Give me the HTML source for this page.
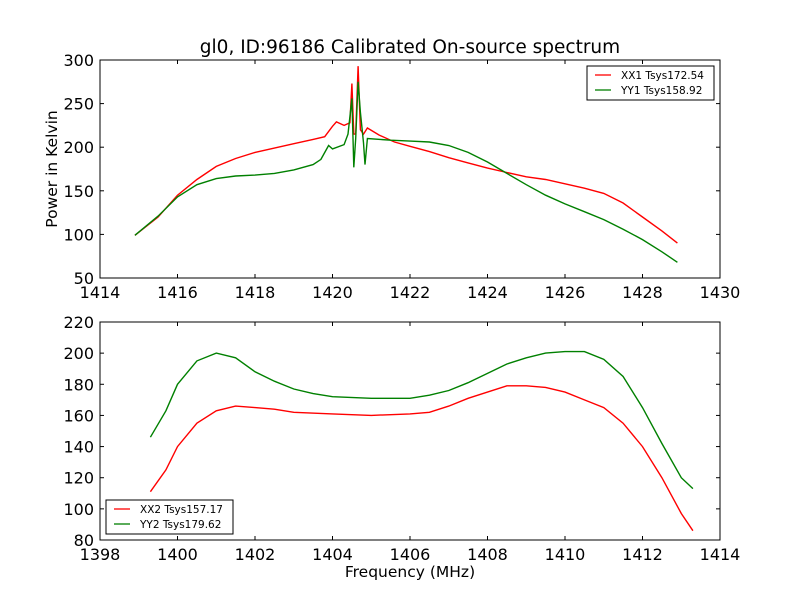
<!DOCTYPE html>
<html><head><meta charset="utf-8">
<style>
body{margin:0;background:#fff;}
svg text{font-family:"DejaVu Sans","Liberation Sans",sans-serif;}
</style></head>
<body>
<svg id="chart" width="800" height="600" viewBox="0 0 800 600" xmlns="http://www.w3.org/2000/svg">
<rect width="800" height="600" fill="#fff"/>
<text x="410" y="53" font-size="18.5" text-anchor="middle">gl0, ID:96186 Calibrated On-source spectrum</text>
<text x="57" y="169" font-size="15.5" text-anchor="middle" transform="rotate(-90 57 169)">Power in Kelvin</text>
<text x="410" y="577" font-size="15.5" text-anchor="middle">Frequency (MHz)</text>
<g id="top"></g>
<g id="bot"></g>
</svg>
<script>
const topXTicks=[1414,1416,1418,1420,1422,1424,1426,1428,1430];
const topYTicks=[50,100,150,200,250,300];
const botXTicks=[1398,1400,1402,1404,1406,1408,1410,1412,1414];
const botYTicks=[80,100,120,140,160,180,200,220];
const xx1F=[1414.9,1415.5,1416,1416.5,1417,1417.5,1418,1418.5,1419,1419.5,1419.8,1420,1420.1,1420.3,1420.45,1420.5,1420.55,1420.6,1420.66,1420.72,1420.8,1420.9,1421.2,1421.6,1422,1422.5,1423,1423.5,1424,1424.5,1425,1425.5,1426,1426.5,1427,1427.5,1428,1428.5,1428.9];
const xx1V=[99,120,145,163,178,187,194,199,204,209,212,224,229,225,228,273,215,215,293,220,215,222,214,206,201,195,188,182,176,171,166,163,158,153,147,136,120,104,90];
const yy1F=[1414.9,1415.5,1416,1416.5,1417,1417.5,1418,1418.5,1419,1419.5,1419.7,1419.9,1420,1420.3,1420.4,1420.5,1420.55,1420.6,1420.66,1420.72,1420.8,1420.84,1420.9,1421.5,1422,1422.5,1423,1423.5,1424,1424.5,1425,1425.5,1426,1426.5,1427,1427.5,1428,1428.5,1428.9];
const yy1V=[99,121,143,157,164,167,168,170,174,180,186,202,198,203,215,256,177,210,275,240,205,180,210,208,207,206,202,194,183,170,157,145,135,126,117,106,94,80,68];
const xx2F=[1399.3,1399.7,1400,1400.5,1401,1401.5,1402,1402.5,1403,1404,1405,1406,1406.5,1407,1407.5,1408,1408.5,1409,1409.5,1410,1410.5,1411,1411.5,1412,1412.5,1413,1413.3];
const xx2V=[111,125,140,155,163,166,165,164,162,161,160,161,162,166,171,175,179,179,178,175,170,165,155,140,120,97,86];
const yy2F=[1399.3,1399.7,1400,1400.5,1401,1401.5,1402,1402.5,1403,1403.5,1404,1405,1406,1406.5,1407,1407.5,1408,1408.5,1409,1409.5,1410,1410.5,1411,1411.5,1412,1412.5,1413,1413.3];
const yy2V=[146,163,180,195,200,197,188,182,177,174,172,171,171,173,176,181,187,193,197,200,201,201,196,185,165,142,120,113];
const NS="http://www.w3.org/2000/svg";
function mk(p,t,a){const e=document.createElementNS(NS,t);for(const k in a)e.setAttribute(k,a[k]);p.appendChild(e);return e;}
function panel(g,L,T,R,B,xt,yt,series,legend,pname){
 const xs=v=>L+(v-xt[0])/(xt[xt.length-1]-xt[0])*(R-L);
 const ys=v=>B-(v-yt[0])/(yt[yt.length-1]-yt[0])*(B-T);
 series.forEach(s=>{
  const pl=mk(g,'polyline',{points:s.f.map((f,i)=>xs(f).toFixed(1)+','+ys(s.v[i]).toFixed(1)).join(' '),fill:'none',stroke:s.c,'stroke-width':1.4});
  
  
 });
 const fr=mk(g,'rect',{x:L,y:T,width:R-L,height:B-T,fill:'none',stroke:'#000','stroke-width':1});
 
 
 xt.forEach(v=>{const x=xs(v);
  mk(g,'line',{x1:x,y1:B,x2:x,y2:B-4,stroke:'#000'});mk(g,'line',{x1:x,y1:T,x2:x,y2:T+4,stroke:'#000'});
  const t=mk(g,'text',{x:x,y:B+20,'font-size':16,'text-anchor':'middle'});t.textContent=v;
  
  });
 yt.forEach(v=>{const y=ys(v);
  mk(g,'line',{x1:L,y1:y,x2:L+4,y2:y,stroke:'#000'});mk(g,'line',{x1:R,y1:y,x2:R-4,y2:y,stroke:'#000'});
  const t=mk(g,'text',{x:L-6,y:y+6,'font-size':16,'text-anchor':'end'});t.textContent=v;
  
  });
 const lg=mk(g,'g',{});
 
 
 mk(lg,'rect',{x:legend.x,y:legend.y,width:127,height:34,fill:'#fff',stroke:'#000'});
 series.forEach((s,i)=>{const y=legend.y+9+i*15;
  mk(lg,'line',{x1:legend.x+8,y1:y,x2:legend.x+24,y2:y,stroke:s.c,'stroke-width':1.3});
  const t=mk(lg,'text',{x:legend.x+34,y:y+4,'font-size':10.5});t.textContent=s.l;
  
  });
}
panel(document.getElementById('top'),100,60,720,278,topXTicks,topYTicks,
 [{f:xx1F,v:xx1V,c:'#ff0000',n:'xx1-line',l:'XX1 Tsys172.54'},{f:yy1F,v:yy1V,c:'#008000',n:'yy1-line',l:'YY1 Tsys158.92'}],{x:587,y:66},'top');
panel(document.getElementById('bot'),100,322,720,540,botXTicks,botYTicks,
 [{f:xx2F,v:xx2V,c:'#ff0000',n:'xx2-line',l:'XX2 Tsys157.17'},{f:yy2F,v:yy2V,c:'#008000',n:'yy2-line',l:'YY2 Tsys179.62'}],{x:106,y:500},'bottom');
</script>
</body></html>
